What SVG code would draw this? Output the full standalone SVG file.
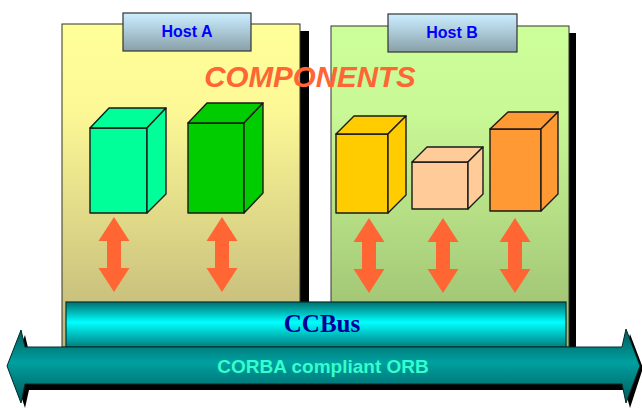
<svg xmlns="http://www.w3.org/2000/svg" width="642" height="408" viewBox="0 0 642 408">
<style>
.face{stroke:#1a1a1a;stroke-width:1.4;stroke-linejoin:round}
.tab{fill:url(#tabG);stroke:#333;stroke-width:1.2}
.tabt{font-family:"Liberation Sans",Arial,sans-serif;font-weight:bold;font-size:16px;fill:#0000FF;text-anchor:middle}
.panel{stroke:#333;stroke-width:1}
.dbl{fill:#FF6633}
</style>
<defs>
<linearGradient id="gA" x1="0" y1="0" x2="0" y2="1">
<stop offset="0" stop-color="#FFFF99"/><stop offset="0.27" stop-color="#FCF896"/><stop offset="1" stop-color="#BDB477"/>
</linearGradient>
<linearGradient id="gB" x1="0" y1="0" x2="0" y2="1">
<stop offset="0" stop-color="#CCFF99"/><stop offset="0.27" stop-color="#C9F896"/><stop offset="1" stop-color="#9BBC6F"/>
</linearGradient>
<linearGradient id="tabG" x1="0" y1="0" x2="0" y2="1">
<stop offset="0" stop-color="#CCEEFF"/><stop offset="0.35" stop-color="#B4D4E4"/><stop offset="1" stop-color="#889FA6"/>
</linearGradient>
<linearGradient id="busG" x1="0" y1="0" x2="0" y2="1">
<stop offset="0" stop-color="#006F6F"/><stop offset="0.45" stop-color="#00FFFF"/><stop offset="1" stop-color="#007F7F"/>
</linearGradient>
<linearGradient id="orbG" x1="0" y1="0" x2="0" y2="1">
<stop offset="0" stop-color="#005A5A"/><stop offset="0.45" stop-color="#00A0A0"/><stop offset="1" stop-color="#005A5A"/>
</linearGradient>
<path id="dbl" class="dbl" d="M0,0 L15.5,24 L7,24 L7,51 L15.5,51 L0,75 L-15.5,51 L-7,51 L-7,24 L-15.5,24 Z"/>
</defs>

<g id="hostA">
<rect x="300" y="31" width="9" height="316" fill="#000"/>
<rect class="panel" x="62" y="24" width="238" height="323" fill="url(#gA)"/>
<rect class="tab" x="123" y="13" width="128" height="38"/>
<text class="tabt" x="187" y="37">Host A</text>
</g>

<g id="hostB">
<rect x="569" y="33" width="7" height="314" fill="#000"/>
<rect class="panel" x="331" y="26" width="238" height="321" fill="url(#gB)"/>
<rect class="tab" x="388" y="14" width="129" height="38"/>
<text class="tabt" x="452" y="38">Host B</text>
</g>

<g id="title">
<text x="310" y="87" text-anchor="middle" font-family="'Liberation Sans',Arial,sans-serif" font-weight="bold" font-style="italic" font-size="29.5" fill="#FF6633">COMPONENTS</text>
</g>

<g id="cube1" fill="#00FF99">
<rect class="face" x="90" y="128" width="57" height="85"/>
<polygon class="face" points="90,128 109,108 166,108 147,128"/>
<polygon class="face" points="147,128 166,108 166,194 147,213"/>
</g>
<g id="cube2" fill="#00CC00">
<rect class="face" x="188" y="123" width="56" height="90"/>
<polygon class="face" points="188,123 207,103 263,103 244,123"/>
<polygon class="face" points="244,123 263,103 263,193 244,213"/>
</g>
<g id="cube3" fill="#FFCC00">
<rect class="face" x="336" y="134" width="52" height="79"/>
<polygon class="face" points="336,134 354,116 406,116 388,134"/>
<polygon class="face" points="388,134 406,116 406,195 388,213"/>
</g>
<g id="cube4" fill="#FFCC99">
<rect class="face" x="412" y="162" width="56" height="47"/>
<polygon class="face" points="412,162 427,147 483,147 468,162"/>
<polygon class="face" points="468,162 483,147 483,194 468,209"/>
</g>
<g id="cube5" fill="#FF9933">
<rect class="face" x="490" y="129" width="51" height="82"/>
<polygon class="face" points="490,129 508,112 558,112 541,129"/>
<polygon class="face" points="541,129 558,112 558,194 541,211"/>
</g>

<g id="connectors">
<use href="#dbl" x="114" y="217"/>
<use href="#dbl" x="222" y="217"/>
<use href="#dbl" x="369" y="218"/>
<use href="#dbl" x="443" y="218"/>
<use href="#dbl" x="515" y="218"/>
</g>

<g id="ccbus">
<rect x="66" y="302" width="500" height="45" fill="url(#busG)" stroke="#003333" stroke-width="1.2"/>
<text x="322" y="332" text-anchor="middle" font-family="'Liberation Serif','Times New Roman',serif" font-weight="bold" font-size="25" fill="#000099">CCBus</text>
</g>

<g id="orb">
<polygon points="12,368 25,335 29,352 625,352 630,334 643,368 630,408 625,390 29,390 25,408" fill="#000"/>
<polygon points="7,366 21,330 25,347 622,347 626,329 640,366 626,403 622,384 25,384 21,403" fill="url(#orbG)" stroke="#002a2a" stroke-width="1"/>
<text x="323" y="373" text-anchor="middle" font-family="'Liberation Sans',Arial,sans-serif" font-weight="bold" font-size="19" fill="#33FFCC">CORBA compliant ORB</text>
</g>
</svg>
